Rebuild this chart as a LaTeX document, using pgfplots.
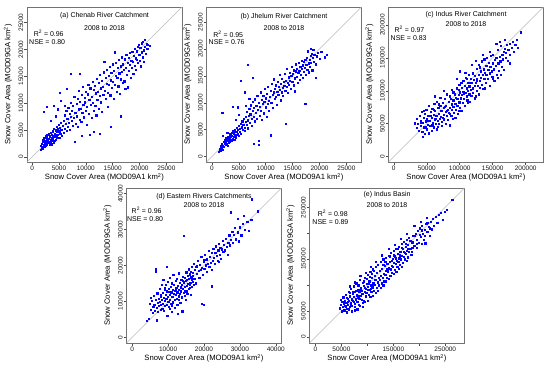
\documentclass[border=0pt]{standalone}
\usepackage{pgfplots}
\pgfplotsset{compat=1.18}
\usepackage{fontspec}
\setmainfont{Liberation Sans}
\definecolor{ptblue}{RGB}{0,0,255}
\newcommand{\tfont}{\fontsize{7}{8}\selectfont}
\pgfplotsset{
  panel/.style={
    scale only axis, width=155bp, height=155bp, anchor=south west,
    axis line style={draw=black!55, line width=0.6bp},
    tick pos=left, tick align=outside, major tick length=2.5bp,
    major tick style={black!70, line width=0.5bp},
    tick label style={font=\fontsize{6.5}{7}\selectfont, inner sep=0pt, text=black!90},
    xticklabel style={anchor=north},
    yticklabel style={rotate=90, anchor=south},
    xticklabel shift=1bp, yticklabel shift=1bp,
    xlabel={Snow Cover Area (MOD09A1 km\textsuperscript{2})},
    ylabel={Snow Cover Area (MOD09GA km\textsuperscript{2})},
    label style={font=\fontsize{7.7}{8}\selectfont},
    xlabel style={at={(axis description cs:0.5,-0.1)}, anchor=center},
    ylabel style={at={(axis description cs:-0.123,0.5)}, anchor=center},
  },
  pts/.style={only marks, mark=square*, mark size=0.6bp, ptblue, mark options={line width=0.1bp}},
  diag/.style={black!28, line width=0.5bp, no marks},
}
\begin{document}
\begin{tikzpicture}
\useasboundingbox (0bp,0bp) rectangle (550bp,-369bp);

% ---------------- (a) Chenab ----------------
\begin{axis}[panel, at={(27bp,-162bp)},
  xmin=-0.95, xmax=27.9, ymin=-0.95, ymax=27.9,
  xtick={0,5,10,15,20,25}, xticklabels={0,5000,10000,15000,20000,25000},
  ytick={0,5,10,15,20,25}, yticklabels={0,5000,10000,15000,20000,25000}]
\addplot[diag] coordinates {(-0.95,-0.95) (27.9,27.9)};
\addplot[pts] coordinates {
(1.5,1.4)(1.6,2.1)(1.7,1.7)(1.8,2.5)(1.9,2.0)(2.0,2.9)(2.0,1.6)(2.1,2.3)(2.2,3.3)(2.3,2.6)(2.3,1.9)(2.4,3.0)(2.5,3.7)(2.5,2.2)(2.6,2.8)(2.7,3.5)(2.7,2.4)(2.8,4.1)(2.8,3.0)(2.9,2.6)(3.0,3.4)(3.0,4.3)(3.1,2.9)(3.2,3.8)(3.2,2.4)(3.3,4.0)(3.4,3.2)(3.4,4.6)(3.5,2.8)(3.6,3.6)(3.6,4.2)(3.7,3.0)(3.8,4.8)(3.8,3.5)(3.9,4.0)(4.0,2.7)(4.0,5.3)(4.1,3.8)(4.2,4.4)(4.3,3.3)(4.3,5.0)(4.4,4.1)(4.5,5.6)(4.6,3.7)(4.6,4.7)(4.7,5.2)(4.8,4.2)(4.9,6.0)(5.0,4.8)(5.0,3.6)(5.1,5.5)(5.2,4.4)(5.3,6.4)(5.4,5.1)(5.5,3.9)(5.6,5.8)
(2.2,3.6)(2.6,3.9)(3.0,4.4)(1.9,3.2)(2.8,4.2)(3.6,2.4)(4.2,3.0)
(2.1,8.4)(2.7,9.4)(4.0,9.5)(3.5,6.8)(4.3,7.6)(5.1,12.0)(5.3,10.5)(6.4,12.7)(7.2,15.5)(6.0,9.6)(4.8,8.9)(8.8,15.5)
(5.8,6.7)(5.9,4.6)(6.0,7.8)(6.1,5.3)(6.2,6.2)(6.3,8.6)(6.4,4.9)(6.5,7.1)(6.6,5.7)(6.7,9.2)(6.8,6.4)(6.9,8.0)(7.0,5.1)(7.1,7.5)(7.2,10.1)(7.3,6.8)(7.4,8.7)(7.5,5.9)(7.6,9.6)(7.7,7.3)(7.8,11.2)(7.9,2.8)(8.0,8.2)(8.1,6.2)(8.2,9.9)(8.3,7.6)(8.4,10.8)(8.5,5.6)(8.6,8.9)(8.7,12.4)(8.8,7.0)(8.9,10.3)(9.0,9.0)(9.1,6.6)(9.2,3.9)(9.2,11.6)(9.3,8.3)(9.4,13.1)(9.5,9.7)(9.6,7.4)(9.7,11.0)(9.8,10.2)(9.9,8.6)(10.0,12.2)(10.1,6.0)(10.2,9.4)(10.3,11.7)(10.4,13.5)(10.5,8.1)(10.6,10.6)(10.7,4.2)(10.8,12.8)(10.9,9.8)(11.0,7.3)(11.1,11.3)(11.2,14.0)(11.3,10.1)(11.4,8.7)(11.5,4.7)(11.5,12.5)(11.6,13.3)(11.7,9.5)(11.8,11.9)(11.9,7.8)(12.0,14.6)
(12.1,10.6)(12.2,12.1)(12.3,13.9)(12.4,9.0)(12.5,4.3)(12.5,11.4)(12.6,15.3)(12.7,12.8)(12.8,10.2)(12.9,14.2)(13.0,8.4)(13.1,13.1)(13.2,11.6)(13.3,15.8)(13.4,17.7)(13.5,12.4)(13.6,14.7)(13.7,10.8)(13.8,13.7)(13.9,16.2)(14.0,12.0)(14.1,9.3)(14.2,15.1)(14.3,13.4)(14.4,16.8)(14.5,11.5)(14.6,5.7)(14.6,14.3)(14.7,15.7)(14.8,12.9)(14.9,17.3)(15.0,14.0)(15.1,10.9)(15.2,16.1)(15.3,19.5)(15.4,13.5)(15.5,15.2)(15.6,17.6)(15.7,12.2)(15.8,14.8)(15.9,16.6)(16.0,13.2)(16.1,18.1)(16.2,15.6)(16.3,11.8)(16.4,16.9)(16.5,7.6)(16.5,14.5)(16.6,18.6)(16.7,15.9)(16.8,13.8)(16.9,17.3)
(17.0,16.2)(17.1,14.1)(17.2,18.2)(17.3,12.7)(17.4,16.6)(17.5,19.0)(17.6,15.3)(17.7,17.6)(17.8,13.0)(17.9,18.5)(18.0,16.0)(18.1,19.4)(18.2,17.2)(18.3,14.8)(18.4,18.0)(18.5,16.7)(18.6,19.6)(18.7,17.8)(18.8,15.5)(18.9,18.8)(19.0,20.1)(19.1,17.0)(19.2,18.4)(19.3,16.3)(19.4,19.7)(19.5,18.1)(19.6,20.5)(19.7,17.5)(19.8,20.9)(19.9,19.1)(20.0,18.0)(20.1,20.3)(20.2,16.9)(20.3,19.5)(20.4,21.2)(20.5,18.6)(20.6,21.5)(20.7,19.9)(20.8,17.7)(20.9,20.6)(21.1,19.3)(21.3,21.0)(21.5,20.9)(21.4,20.2)(21.8,20.7)(21.0,21.9)
};
\node[font=\tfont] at (rel axis cs:0.5,0.945) {(a) Chenab River Catchment};
\node[font=\tfont] at (rel axis cs:0.5,0.862) {2008 to 2018};
\node[font=\tfont] at (rel axis cs:0.14,0.83) {R\textsuperscript{2} = 0.96};
\node[font=\tfont] at (rel axis cs:0.13,0.772) {NSE = 0.80};
\end{axis}

% ---------------- (b) Jhelum ----------------
\begin{axis}[panel, at={(206.5bp,-162bp)},
  xmin=-1.0, xmax=27.8, ymin=-1.0, ymax=27.8,
  xtick={0,5,10,15,20,25}, xticklabels={0,5000,10000,15000,20000,25000},
  ytick={0,5,10,15,20,25}, yticklabels={0,5000,10000,15000,20000,25000}]
\addplot[diag] coordinates {(-1.0,-1.0) (27.8,27.8)};
\addplot[pts] coordinates {
(1.2,1.0)(1.4,1.5)(1.5,1.1)(1.6,2.0)(1.7,1.6)(1.8,2.4)(1.9,1.3)(2.0,2.1)(2.1,2.8)(2.2,1.8)(2.3,2.5)(2.4,3.2)(2.5,2.2)(2.6,2.9)(2.6,3.6)(2.7,2.5)(2.8,3.3)(2.9,2.0)(3.0,3.0)(3.0,3.8)(3.1,2.7)(3.2,3.5)(3.3,4.2)(3.3,2.9)(3.4,3.8)(3.5,3.2)(3.6,4.5)(3.7,3.0)(3.7,3.9)(3.8,3.4)(3.9,4.8)(4.0,3.7)(4.0,4.3)(4.1,3.1)(4.2,5.0)(4.3,4.0)(4.4,3.6)(4.5,4.7)(4.6,5.4)(4.7,4.2)(4.8,5.0)(4.9,3.9)(5.0,5.7)(5.1,4.6)(5.2,5.2)(5.3,6.2)(5.4,4.3)(5.5,5.5)(5.6,6.6)(5.7,5.0)(5.8,6.0)(5.9,7.1)(6.0,5.4)(6.1,4.8)(2.0,3.9)(2.8,4.4)(1.8,1.9)(2.4,2.6)(3.1,3.3)(3.5,4.0)(4.1,4.6)
(1.9,8.2)(3.9,9.3)(4.8,9.2)(5.4,14.2)(6.0,12.0)(6.6,17.1)(7.5,14.7)(6.3,9.5)(5.0,7.8)(4.4,6.9)(6.9,10.8)
(6.2,6.5)(6.3,7.4)(6.4,5.9)(6.5,8.3)(6.6,6.8)(6.7,5.3)(6.8,7.6)(6.9,8.9)(7.0,6.3)(7.1,7.9)(7.2,9.6)(7.3,7.1)(7.4,5.8)(7.5,8.5)(7.6,10.2)(7.7,2.4)(7.7,7.4)(7.8,9.1)(7.9,6.6)(8.0,10.7)(8.1,8.2)(8.2,9.5)(8.3,7.0)(8.4,11.3)(8.5,8.8)(8.6,3.0)(8.6,2.2)(8.7,10.0)(8.8,7.7)(8.9,9.3)(9.0,12.0)(9.1,8.5)(9.2,10.6)(9.3,6.9)(9.4,9.8)(9.5,11.4)(9.6,8.1)(9.7,10.3)(9.8,12.6)(9.9,9.2)(10.0,10.9)(10.1,7.5)(10.2,11.7)(10.3,9.9)(10.4,13.0)(10.5,10.4)(10.6,8.6)(10.7,11.1)(10.9,4.0)(10.9,12.3)(11.0,10.0)(11.1,13.6)(11.2,11.5)(11.3,9.1)(11.4,12.0)(11.5,14.4)(11.6,10.8)(11.7,12.7)(11.8,11.2)(11.9,13.3)(12.0,9.7)
(12.1,12.1)(12.2,14.0)(12.3,11.6)(12.4,13.0)(12.5,15.2)(12.6,12.4)(12.7,10.5)(12.8,13.6)(12.9,12.0)(13.0,14.5)(13.1,12.8)(13.2,11.3)(13.3,14.0)(13.4,13.2)(13.5,15.4)(13.6,12.3)(13.7,6.1)(13.7,14.1)(13.8,13.0)(13.9,16.4)(14.0,13.7)(14.1,11.9)(14.2,14.8)(14.3,13.4)(14.4,15.6)(14.5,14.2)(14.6,12.6)(14.7,15.0)(14.8,16.8)(14.9,14.0)(15.0,15.5)(15.1,13.3)(15.2,16.1)(15.3,14.6)(15.4,12.2)(15.5,15.9)(15.6,17.2)(15.7,14.9)(15.8,16.4)(15.9,13.8)(16.0,15.6)(16.1,17.5)(16.2,16.0)(16.3,14.3)(16.4,16.7)(16.5,15.2)(16.6,17.8)(16.7,16.3)(16.8,14.7)(16.9,17.0)
(17.0,15.8)(17.1,17.6)(17.2,16.5)(17.3,9.9)(17.3,18.0)(17.4,15.3)(17.5,17.1)(17.6,18.4)(17.7,16.2)(17.8,19.6)(17.9,17.4)(18.0,15.7)(18.1,18.1)(18.2,16.8)(18.3,18.8)(18.4,17.5)(18.5,19.2)(18.6,16.1)(18.7,18.4)(18.8,19.9)(18.9,17.7)(19.0,18.9)(19.2,14.7)(19.3,17.2)(19.5,18.7)(19.7,19.3)(20.0,18.2)(20.3,19.5)(21.0,18.5)(21.3,19.0)(18.4,20.1)
};
\node[font=\tfont] at (rel axis cs:0.5,0.935) {(b) Jhelum River Catchment};
\node[font=\tfont] at (rel axis cs:0.5,0.862) {2008 to 2018};
\node[font=\tfont] at (rel axis cs:0.14,0.826) {R\textsuperscript{2} = 0.95};
\node[font=\tfont] at (rel axis cs:0.13,0.772) {NSE = 0.76};
\end{axis}

% ---------------- (c) Indus River ----------------
\begin{axis}[panel, at={(388.5bp,-162bp)},
  xmin=-8, xmax=227, ymin=-8, ymax=227,
  xtick={0,50,100,150,200}, xticklabels={0,50000,100000,150000,200000},
  ytick={0,50,100,150,200}, yticklabels={0,50000,100000,150000,200000}]
\addplot[diag] coordinates {(-8,-8) (227,227)};
\addplot[pts] coordinates {
(32,51)(34,44)(35,58)(36,50)(38,40)(39,62)(40,47)(41,55)(42,68)(43,38)(44,31)(44,52)(45,60)(46,45)(47,35)(47,66)(48,54)(49,72)(50,42)(50,58)(51,49)(52,63)(53,36)(53,77)(54,55)(55,47)(56,68)(57,59)(57,40)(58,73)(59,52)(60,64)(60,45)(61,81)(62,57)(62,70)(63,50)(64,62)(65,84)(65,42)(66,55)(67,74)(68,66)(68,50)(69,58)(70,78)(70,90)(71,61)(72,53)(72,70)(73,47)(74,82)(75,64)(75,74)(76,57)(77,88)(78,69)(78,50)(79,78)(80,62)(80,95)(81,72)(82,56)(83,84)(83,67)(84,75)(85,48)(85,92)(86,63)(87,80)(88,71)(88,102)(89,58)(90,86)(90,76)(91,67)(92,95)(93,81)(93,60)(94,72)(95,104)(96,88)(96,78)(97,66)(98,94)(99,83)(99,110)(100,75)(100,98)(101,89)(102,70)(103,105)(103,94)(104,82)(105,116)(105,99)(106,88)(107,108)(107,78)(108,97)(109,120)(110,92)(110,104)(111,86)(112,113)(112,100)(113,125)(114,95)(114,107)(115,84)(116,118)(116,102)(117,93)(118,112)(119,128)(119,104)(120,97)(121,117)(122,108)(122,89)(123,123)(124,113)(125,100)(125,134)(126,118)(127,108)(128,125)(128,95)(129,140)(130,115)(130,105)(131,130)(132,120)(133,110)(133,145)(134,125)(135,103)(136,133)(137,118)(137,148)(138,128)(139,112)(140,138)(140,124)(141,150)(142,118)(143,132)(144,143)(145,127)(145,108)(146,137)(147,153)(148,130)(149,121)(150,142)(150,155)(151,133)(152,116)(153,147)(154,138)(155,150)(156,125)(157,120)(157,162)(158,142)(159,131)(160,152)(161,145)(162,168)(163,137)(164,155)(165,148)(166,160)(167,132)(168,164)(169,150)(170,158)(171,170)(172,146)(173,162)(174,163)(175,172)(176,155)(178,166)(180,175)(182,160)(184,170)(186,178)(188,165)(192,189)
(40,52)(45,70)(48,46)(52,55)(55,62)(58,48)(60,72)(63,58)(66,46)(68,80)(71,70)(74,60)(77,76)(80,70)(84,66)(86,88)(90,98)(94,90)(98,102)(102,112)(106,96)(110,118)(115,112)(120,126)(125,116)(130,136)
(62,92)(76,100)(95,118)(100,130)(108,128)(118,140)(124,146)(135,155)(145,160)(155,172)(160,175)(168,178)(88,62)(98,70)(112,82)(124,92)(138,104)(150,118)(162,124)(175,142)
};
\node[font=\tfont] at (rel axis cs:0.5,0.948) {(c) Indus River Catchment};
\node[font=\tfont] at (rel axis cs:0.5,0.89) {2008 to 2018};
\node[font=\tfont] at (rel axis cs:0.135,0.858) {R\textsuperscript{2} = 0.97};
\node[font=\tfont] at (rel axis cs:0.13,0.8) {NSE = 0.83};
\end{axis}

% ---------------- (d) Eastern Rivers ----------------
\begin{axis}[panel, at={(126.5bp,-343bp)},
  xmin=-1.6, xmax=41.6, ymin=-1.6, ymax=41.6,
  xtick={0,10,20,30,40}, xticklabels={0,10000,20000,30000,40000},
  ytick={0,10,20,30,40}, yticklabels={0,10000,20000,30000,40000}]
\addplot[diag] coordinates {(-1.6,-1.6) (41.6,41.6)};
\addplot[pts] coordinates {
(3.9,4.7)(4.5,5.2)(4.8,9.5)(5.0,11.0)(5.2,7.8)(5.4,10.2)(5.6,6.9)(5.8,8.6)(6.0,11.7)(6.1,9.2)(6.3,7.5)(6.4,18.3)(6.6,19.0)(6.5,10.4)(6.7,8.3)(6.8,4.8)(6.9,12.3)(7.0,9.6)(7.1,7.2)(7.3,10.9)(7.4,8.8)(7.5,13.5)(7.6,9.9)(7.8,7.7)(7.9,11.5)(8.0,9.2)(8.1,14.6)(8.2,10.6)(8.3,8.1)(8.4,12.4)(8.5,9.5)(8.6,16.0)(8.7,11.1)(8.8,7.4)(8.9,13.3)(9.0,10.2)(9.1,8.8)(9.2,12.0)(9.3,14.8)(9.4,10.8)(9.5,19.6)(9.5,9.1)(9.6,12.9)(9.7,6.0)(9.8,11.4)(9.9,15.5)(10.0,10.0)(10.1,13.6)(10.2,8.5)(10.3,11.9)(10.4,16.7)(10.5,10.6)(10.6,14.2)(10.7,9.3)(10.8,12.6)(10.9,7.1)(11.0,15.1)(11.1,11.3)(11.2,13.2)(11.3,9.8)(11.4,17.5)(11.5,12.1)(11.6,14.6)(11.7,10.4)(11.8,13.0)(11.9,8.2)(12.0,15.8)(12.1,11.8)(12.2,13.9)(12.3,10.9)(12.4,16.4)(12.5,12.6)(12.6,6.6)(12.7,14.5)(12.8,11.5)(12.9,13.3)(13.0,17.9)(13.1,12.2)(13.2,15.2)(13.3,9.6)(13.4,14.0)(13.5,12.9)(13.6,16.0)(13.7,11.2)(13.8,14.8)(13.9,7.3)(14.0,13.6)(14.1,17.0)(14.2,15.4)(14.3,12.4)(14.4,28.3)(14.5,14.1)(14.6,16.6)(14.7,13.0)(14.8,10.6)(14.9,15.7)(15.0,18.2)(15.1,14.4)(15.2,16.1)(15.3,12.1)(15.4,17.3)(15.5,15.0)(15.6,13.6)(15.7,19.0)(15.8,16.4)(15.9,14.7)(16.0,17.6)(16.1,15.3)(16.2,11.8)(16.3,18.4)(16.4,16.8)(16.5,14.2)(16.6,19.6)(16.7,17.2)(16.8,15.6)(16.9,18.0)(17.0,20.5)(17.2,16.3)(17.4,18.8)(17.6,15.1)(17.8,19.6)(18.0,17.7)(18.2,21.4)(18.4,18.5)(18.6,16.6)(18.8,20.2)(19.0,18.9)(19.2,22.6)(19.4,9.4)(19.4,19.5)(19.6,17.4)(19.8,9.1)(19.8,21.0)(20.0,19.2)(20.2,23.0)(20.4,20.1)(20.6,18.3)(20.8,21.8)(21.0,20.6)(21.2,24.1)(21.4,19.7)(21.6,22.4)(21.8,20.9)(22.0,23.5)(22.1,14.3)(22.3,21.4)(22.5,24.7)(22.7,22.2)(22.9,20.5)(23.1,23.6)(23.3,25.4)(23.5,22.8)(23.7,21.3)(23.9,24.3)(24.1,26.2)(24.3,23.1)(24.5,25.0)(24.7,22.0)(24.9,24.6)(25.1,27.0)(25.3,23.9)(25.5,25.8)(25.8,24.3)(26.0,27.6)(26.2,25.2)(26.5,23.0)(26.7,26.4)(27.0,28.5)(27.2,25.7)(27.5,34.9)(27.5,27.2)(27.8,29.4)(28.0,26.3)(28.3,28.6)(28.6,30.5)(28.9,27.4)(29.3,33.0)(29.3,29.3)(29.6,26.8)(30.0,30.7)(30.3,28.5)(30.7,31.6)(31.1,33.9)(31.4,30.0)(32.0,32.2)(32.5,29.8)(33.1,32.8)(33.2,38.5)(35.0,35.2)(24.0,21.0)(22.0,18.8)
(8.0,11.8)(9.0,13.9)(10.0,12.8)(11.0,9.0)(12.0,13.4)(13.0,10.4)(14.0,15.9)(15.0,12.9)(16.0,13.9)(17.0,14.6)(10.5,7.9)(12.5,9.1)(14.5,11.7)(16.5,16.2)(18.0,19.9)(20.0,21.6)
};
\node[font=\tfont] at (rel axis cs:0.5,0.942) {(d) Eastern Rivers Catchments};
\node[font=\tfont] at (rel axis cs:0.5,0.89) {2008 to 2018};
\node[font=\tfont] at (rel axis cs:0.13,0.858) {R\textsuperscript{2} = 0.96};
\node[font=\tfont] at (rel axis cs:0.12,0.8) {NSE = 0.80};
\end{axis}

% ---------------- (e) Indus Basin ----------------
\begin{axis}[panel, at={(309.5bp,-343bp)},
  xmin=-11.5, xmax=287, ymin=-11.5, ymax=287,
  xtick={0,50,100,150,200,250}, xticklabels={0,50000,,150000,,250000},
  ytick={0,50,100,150,200,250}, yticklabels={0,50000,,150000,,250000}]
\addplot[diag] coordinates {(-11.5,-11.5) (287,287)};
\addplot[pts] coordinates {
(47,56)(48,72)(49,63)(50,50)(51,68)(52,59)(53,77)(54,64)(55,52)(56,70)(57,61)(58,82)(59,67)(60,55)(61,74)(62,63)(63,88)(64,71)(65,58)(66,79)(67,66)(68,93)(69,74)(70,60)(71,83)(72,70)(73,98)(74,78)(75,65)(76,87)(77,73)(78,104)(79,82)(80,68)(81,92)(82,77)(83,62)(84,87)(85,110)(86,80)(87,95)(88,72)(89,90)(90,105)(91,84)(92,70)(93,99)(94,88)(95,115)(96,79)(97,94)(98,103)(99,86)(100,120)(101,97)(102,82)(103,108)(104,92)(105,126)(106,100)(107,87)(108,114)(109,96)(110,131)(111,105)(112,90)(113,118)(114,101)(115,136)(116,110)(117,95)(118,124)(119,106)(120,140)(121,114)(122,100)(123,128)(124,110)(125,145)(126,119)(127,104)(128,132)(129,115)(130,150)(131,123)(132,108)(133,137)(134,121)(135,153)(136,128)(137,114)(138,142)(139,126)(140,157)(141,133)(142,119)(143,146)(144,131)(145,162)(146,138)(147,124)(148,151)(149,136)(150,166)(151,143)(152,130)(153,156)(154,141)(155,170)(156,148)(157,135)(158,160)(159,146)(160,175)(161,152)(162,139)(163,165)(164,150)(165,180)(166,157)(167,144)(168,170)(169,155)(170,184)(171,162)(172,150)(173,174)(174,160)(175,188)(176,166)(177,154)(178,178)(179,164)(180,192)(182,171)(184,159)(186,183)(188,196)(190,176)(192,200)(194,188)(196,205)(198,182)(200,210)(202,193)(204,214)(206,200)(208,187)(210,207)(211,181)(213,218)(215,203)(217,212)(219,195)(221,222)(223,208)(225,228)(228,214)(231,232)(234,221)(237,236)(241,239)(245,226)(249,242)(253,245)(263,265)
(55,66)(58,58)(60,76)(62,69)(64,54)(66,85)(68,62)(70,73)(72,88)(74,68)(76,58)(78,90)(80,80)(82,100)(84,74)(86,92)(88,84)(90,66)(92,108)(94,96)(96,86)(98,112)(100,92)(102,104)(104,116)(106,94)(108,122)(110,100)(112,128)(114,110)(130,140)(134,146)(138,131)(142,156)(146,148)(150,158)(154,152)(158,170)(162,158)(166,172)(170,164)(174,180)(178,170)(182,186)(186,172)(190,195)(195,180)(200,198)(205,206)(210,196)(215,220)(220,210)
(75,52)(85,60)(95,68)(105,78)(115,86)(125,95)(135,108)(145,118)(155,126)(165,136)(175,148)(90,58)(100,70)(110,80)(120,90)(130,100)(140,112)(150,122)(160,132)(185,165)(195,172)(205,180)(80,54)(70,50)(60,48)
(66,98)(76,106)(86,118)(96,124)(106,136)(116,146)(128,158)(140,170)(152,178)(164,190)(176,200)(190,214)(202,222)(214,230)
};
\node[font=\tfont] at (rel axis cs:0.5,0.955) {(e) Indus Basin};
\node[font=\tfont] at (rel axis cs:0.5,0.89) {2008 to 2018};
\node[font=\tfont] at (rel axis cs:0.15,0.84) {R\textsuperscript{2} = 0.98};
\node[font=\tfont] at (rel axis cs:0.135,0.78) {NSE = 0.89};
\end{axis}
\end{tikzpicture}
\end{document}
